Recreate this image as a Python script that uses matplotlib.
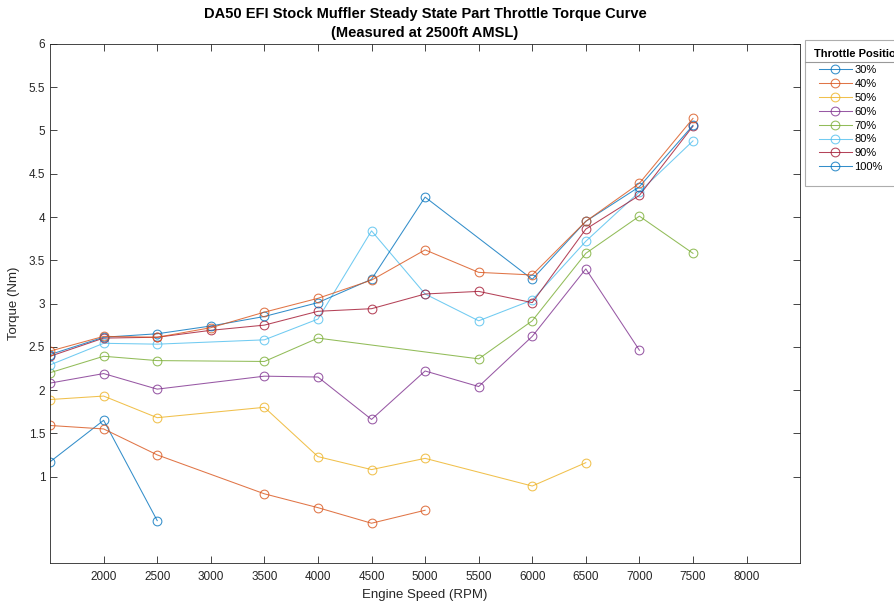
import matplotlib.pyplot as plt
import numpy as np
from matplotlib.lines import Line2D

plt.rcParams['font.family'] = ['Liberation Sans', 'DejaVu Sans']

# engine speed (RPM) and torque (Nm) per throttle position
rpm_30 = [1500, 2000, 2500]
tq_30 = [1.17, 1.65, 0.49]

rpm_40 = [1500, 2000, 2500, 3500, 4000, 4500, 5000]
tq_40 = [1.59, 1.55, 1.25, 0.80, 0.64, 0.46, 0.61]

rpm_50 = [1500, 2000, 2500, 3500, 4000, 4500, 5000, 6000, 6500]
tq_50 = [1.89, 1.93, 1.68, 1.80, 1.23, 1.08, 1.21, 0.89, 1.16]

rpm_60 = [1500, 2000, 2500, 3500, 4000, 4500, 5000, 5500, 6000, 6500, 7000]
tq_60 = [2.08, 2.19, 2.01, 2.16, 2.15, 1.66, 2.22, 2.04, 2.62, 3.40, 2.46]

rpm_70 = [1500, 2000, 2500, 3500, 4000, 5500, 6000, 6500, 7000, 7500]
tq_70 = [2.20, 2.39, 2.34, 2.33, 2.60, 2.36, 2.80, 3.58, 4.01, 3.58]

rpm_80 = [1500, 2000, 2500, 3500, 4000, 4500, 5000, 5500, 6000, 6500, 7000, 7500]
tq_80 = [2.29, 2.54, 2.53, 2.58, 2.82, 3.84, 3.11, 2.80, 3.04, 3.72, 4.29, 4.88]

rpm_90 = [1500, 2000, 2500, 3000, 3500, 4000, 4500, 5000, 5500, 6000, 6500, 7000, 7500]
tq_90 = [2.39, 2.60, 2.61, 2.69, 2.75, 2.91, 2.94, 3.11, 3.14, 3.01, 3.86, 4.25, 5.05]

rpm_100 = [1500, 2000, 2500, 3000, 3500, 4000, 4500, 5000, 6000, 6500, 7000, 7500]
tq_100 = [2.41, 2.61, 2.65, 2.74, 2.85, 3.01, 3.28, 4.23, 3.28, 3.95, 4.35, 5.06]

# extra run, plotted but not in the legend
rpm_extra = [1500, 2000, 2500, 3000, 3500, 4000, 4500, 5000, 5500, 6000, 6500, 7000, 7500]
tq_extra = [2.45, 2.62, 2.61, 2.72, 2.90, 3.06, 3.27, 3.62, 3.36, 3.33, 3.95, 4.39, 5.14]

labels = ["30%", "40%", "50%", "60%", "70%", "80%", "90%", "100%"]

# MATLAB default colour order
colors = ["#0072BD", "#D95319", "#EDB120", "#7E2F8E", "#77AC30", "#4DBEEE", "#A2142F"]

fig = plt.figure(figsize=(8.94, 6.01), dpi=100)
ax = fig.add_axes([0.056, 0.0632, 0.839, 0.8636])

series = [(rpm_30, tq_30), (rpm_40, tq_40), (rpm_50, tq_50), (rpm_60, tq_60),
          (rpm_70, tq_70), (rpm_80, tq_80), (rpm_90, tq_90), (rpm_100, tq_100),
          (rpm_extra, tq_extra)]

handles = []
for i, (x, y) in enumerate(series):
    c = colors[i % len(colors)]
    h, = ax.plot(x, y, color=c, linewidth=0.75, marker="o", markersize=6.3,
                 markerfacecolor="none", markeredgewidth=0.75, alpha=0.8)
    handles.append(h)

ax.set_xlim(1500, 8500)
ax.set_ylim(0, 6)
ax.set_xticks(np.arange(2000, 8001, 500))
ax.set_yticks(np.arange(1, 6.01, 0.5))
ax.set_yticklabels(["1", "1.5", "2", "2.5", "3", "3.5", "4", "4.5", "5", "5.5", "6"])

axcol = "#262626"
for s in ax.spines.values():
    s.set_color(axcol)
    s.set_linewidth(0.6)
ax.tick_params(direction="in", length=5, width=0.6, colors=axcol, labelsize=8.5,
               top=True, right=True)
ax.tick_params(axis="x", pad=6)

ax.set_xlabel("Engine Speed (RPM)", fontsize=9.5, color=axcol, labelpad=4)
ax.set_ylabel("Torque (Nm)", fontsize=9.5, color=axcol, labelpad=6)
ax.set_title("DA50 EFI Stock Muffler Steady State Part Throttle Torque Curve\n(Measured at 2500ft AMSL)",
             fontsize=10.5, fontweight="bold", color="black", pad=5, linespacing=1.45)

leg = ax.legend(handles[:8], labels, loc="upper left", bbox_to_anchor=(1.007, 1.008),
                fontsize=8, frameon=True, fancybox=False, edgecolor="#999999",
                borderaxespad=0, borderpad=0.8, handlelength=3.0, handletextpad=0.22,
                labelspacing=0.35,
                title="Throttle Position", title_fontproperties={"weight": "bold", "size": 8})
leg.get_frame().set_linewidth(0.8)
leg._legend_box.sep = 1.3
leg._legend_box.align = "left"
leg._legend_handle_box.pad = 3.2
for h in leg.legend_handles:
    h.set_alpha(0.8)

# separator line under the legend title
fig.canvas.draw()
r = fig.canvas.get_renderer()
fb = leg.get_frame().get_window_extent(r)
tb = leg.get_title().get_window_extent(r)
hb = leg.get_texts()[0].get_window_extent(r)
ysep = (tb.y0 + hb.y1) / 2
W, H = fig.bbox.width, fig.bbox.height
fig.add_artist(Line2D([fb.x0 / W, fb.x1 / W], [ysep / H, ysep / H],
                      color="#999999", linewidth=0.8, transform=fig.transFigure))

fig.savefig("out.png", dpi=100)
